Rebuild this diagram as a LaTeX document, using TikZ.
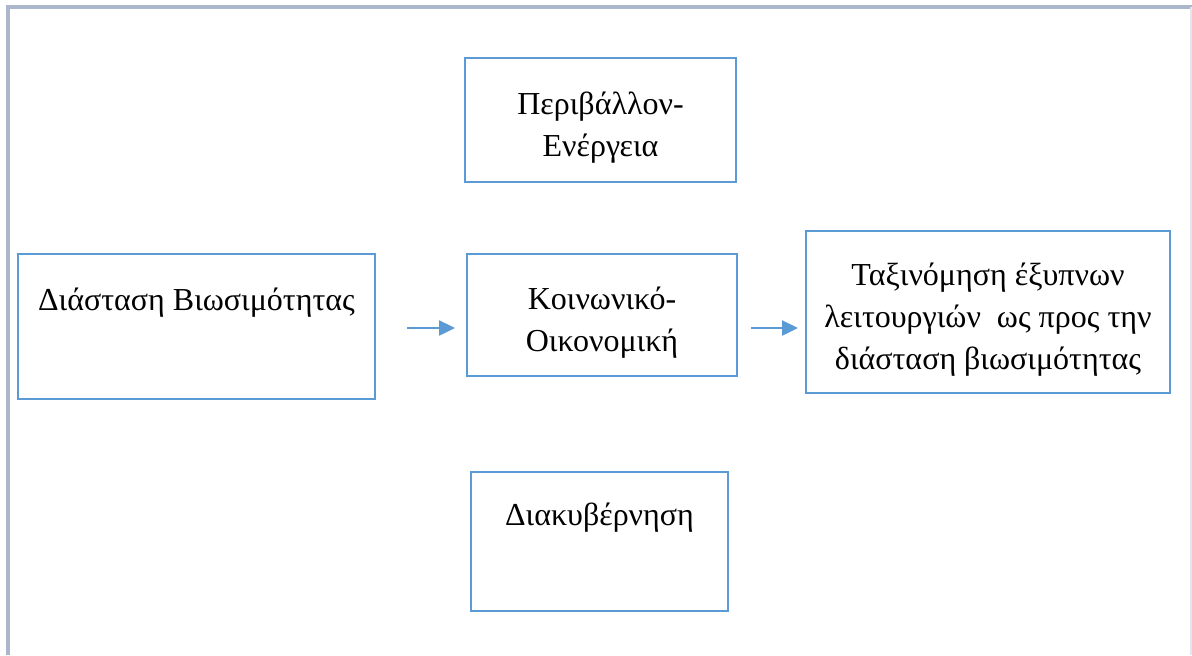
\documentclass[tikz,border=0pt]{standalone}
\usepackage{fontspec}
\setmainfont{Liberation Serif}
\usetikzlibrary{arrows.meta}
\definecolor{boxblue}{HTML}{5B9BD5}
\definecolor{framegray}{HTML}{ABB8CC}
\newcommand{\topgap}{\rule{0pt}{19pt}}
\tikzset{
  box/.style={draw=boxblue, line width=1.2pt, align=center, inner sep=0pt,
    font=\fontsize{16}{21}\selectfont},
  flow/.style={draw=boxblue, line width=1.2pt, -{Triangle[length=8pt,width=7.5pt]}}
}
\begin{document}
\begin{tikzpicture}[x=0.5pt,y=-0.5pt]
\useasboundingbox (0,0) rectangle (1192,655);
% outer frame
\draw[framegray, line width=1.6pt] (8,655) -- (8,7) -- (1192,7);
\draw[framegray!35, line width=1pt] (1191,7) -- (1191,655);

% boxes
\node[box, minimum width=135.5pt, minimum height=62pt] (env) at (600.5,120) {\topgap Περιβάλλον-\\Ενέργεια};
\node[box, minimum width=178.5pt, minimum height=72.5pt] (dim) at (196.5,326.5) {Διάσταση Βιωσιμότητας\\\strut};
\node[box, minimum width=135pt, minimum height=61pt] (soc) at (602,315) {\topgap Κοινωνικό-\\Οικονομική};
\node[box, minimum width=182pt, minimum height=81pt] (cls) at (988,312) {\topgap Ταξινόμηση έξυπνων\\λειτουργιών~ ως προς την\\διάσταση βιωσιμότητας};
\node[box, minimum width=128.5pt, minimum height=69.5pt] (gov) at (599.5,541.5) {Διακυβέρνηση\\\strut};

% arrows
\coordinate (a1) at (407,328);
\coordinate (b1) at (455,328);
\coordinate (a2) at (751,328);
\coordinate (b2) at (798,328);
\draw[flow] (a1) -- (b1);
\draw[flow] (a2) -- (b2);
\end{tikzpicture}
\end{document}
